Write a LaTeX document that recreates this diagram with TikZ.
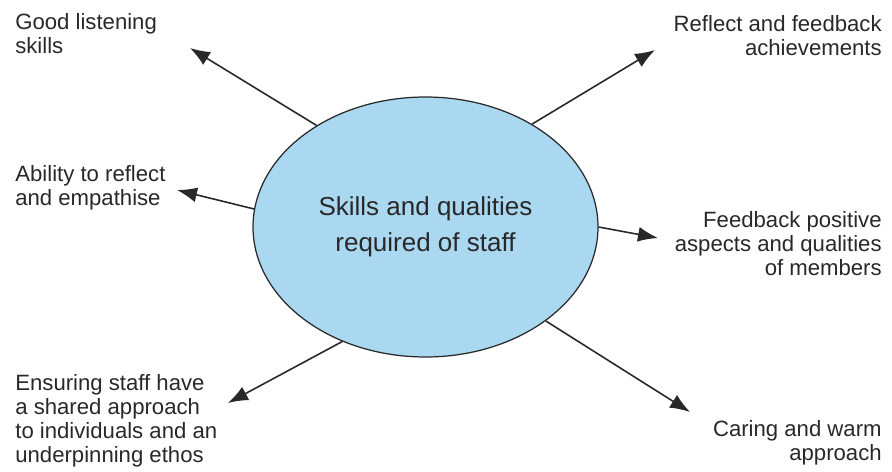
\documentclass[tikz,border=0pt]{standalone}
\usepackage{fontspec}
\setmainfont{Liberation Sans}
\usetikzlibrary{arrows.meta, shapes.geometric}
\definecolor{bubblefill}{RGB}{170,216,240}
\definecolor{inkgrey}{RGB}{40,40,40}
\begin{document}
\begin{tikzpicture}[
    hub/.style={ellipse, draw=inkgrey, line width=0.7pt, fill=bubblefill, minimum width=6.9cm, minimum height=5.2cm, inner sep=0pt, align=center, text=inkgrey, font=\fontsize{14.8}{20.5}\selectfont},
    lbl/.style={inner sep=0pt, text=inkgrey, font=\fontsize{12.6}{13.6}\selectfont},
    spoke/.style={-{Latex[length=0.4cm, width=0.3cm]}, line width=0.9pt, draw=inkgrey},
  ]
    \useasboundingbox (0,0) rectangle (17.84,-9.44);

    \node[hub] (skills) at (8.51,-4.54) {Skills and qualities\\required of staff};

    % Left side
    \node[lbl, anchor=base west, align=left] (listen) at (0.3,-1.06) {Good listening\\skills};
    \node[lbl, anchor=base west, align=left] (empath) at (0.3,-4.1) {Ability to reflect\\and empathise};
    \node[lbl, anchor=base west, align=left] (ethos) at (0.3,-9.24) {Ensuring staff have\\a shared approach\\to individuals and an\\underpinning ethos};

    % Right side
    \node[lbl, anchor=base east, align=right] (achieve) at (17.64,-1.1) {Reflect and feedback\\achievements};
    \node[lbl, anchor=base east, align=right] (positive) at (17.64,-5.5) {Feedback positive\\aspects and qualities\\of members};
    \node[lbl, anchor=base east, align=right] (caring) at (17.64,-9.2) {Caring and warm\\approach};

    % Arrow tips
    \coordinate (tipListen) at (3.8,-0.96);
    \coordinate (tipEmpath) at (3.54,-3.8);
    \coordinate (tipEthos) at (4.56,-8.06);
    \coordinate (tipAchieve) at (13.1,-1.0);
    \coordinate (tipPositive) at (13.16,-4.76);
    \coordinate (tipCaring) at (13.8,-8.24);

    % Spokes
    \draw[spoke] (skills.137.8) -- (tipListen);
    \draw[spoke] (skills.174.4) -- (tipEmpath);
    \draw[spoke] (skills.234.6) -- (tipEthos);
    \draw[spoke] (skills.44.3) -- (tipAchieve);
    \draw[spoke] (skills.0) -- (tipPositive);
    \draw[spoke] (skills.-38.5) -- (tipCaring);
  \end{tikzpicture}
\end{document}
